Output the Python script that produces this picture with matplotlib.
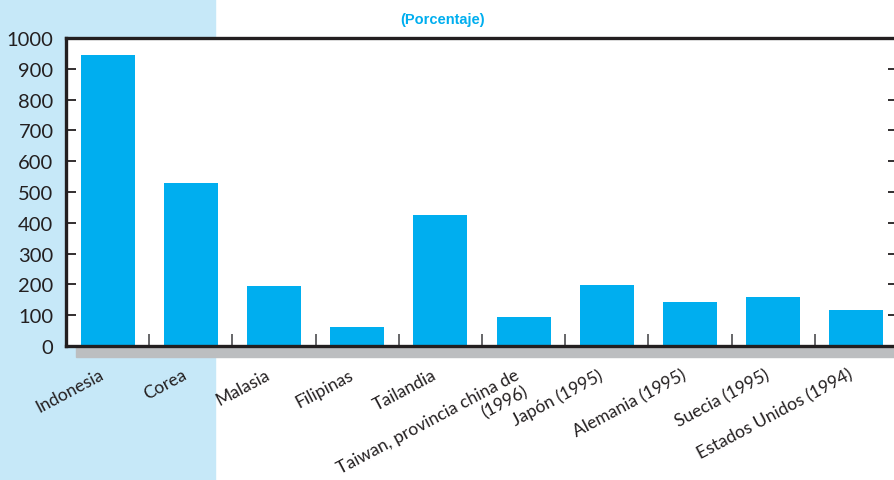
import matplotlib
matplotlib.use("Agg")
import matplotlib.pyplot as plt
from matplotlib.patches import Rectangle
from matplotlib.transforms import ScaledTranslation
import numpy as np

# data
categories = ["Indonesia", "Corea", "Malasia", "Filipinas", "Tailandia",
              "Taiwan, provincia china de\n(1996)", "Japón (1995)",
              "Alemania (1995)", "Suecia (1995)", "Estados Unidos (1994)"]
values = [945, 530, 195, 62, 425, 94, 198, 143, 159, 117]
yticks = [0, 100, 200, 300, 400, 500, 600, 700, 800, 900, 1000]

blue = "#00aeef"
ink = "#231f20"

plt.rcParams['font.family'] = ['Lato', 'DejaVu Sans']

fig = plt.figure(figsize=(8.95, 4.81), dpi=100)
W, H = 895, 481

# light blue panel on the left and grey shadow under the frame
fig.patches.append(Rectangle((0, 0), 215 / W, 1, transform=fig.transFigure,
                             color="#c6e8f8", zorder=-3))
fig.patches.append(Rectangle((76 / W, (H - 358) / H), 1, 10 / H,
                             transform=fig.transFigure,
                             color="#bcbec0", zorder=-2))

ax = fig.add_axes([66 / W, (H - 347) / H, 832 / W, 308 / H])
ax.set_facecolor("white")

x = np.arange(len(categories))
ax.bar(x, values, width=0.65, color=blue, zorder=2)

ax.set_xlim(-0.5, len(categories) - 0.5)
ax.set_ylim(0, 1000)
ax.set_yticks(yticks)
ax.set_yticklabels([str(v) for v in yticks], fontsize=14.5, color=ink)

# category labels, rotated, right end just left of the bar centre
ax.set_xticks(x)
ax.set_xticklabels([])
shift = ScaledTranslation(-9 / 100, -20 / 100, fig.dpi_scale_trans)
for xi, name in zip(x, categories):
    ax.text(xi, 0, name, transform=ax.get_xaxis_transform() + shift,
            rotation=28, ha="right", va="top", rotation_mode="anchor",
            multialignment="right", linespacing=1.2,
            fontsize=12.6, color=ink, clip_on=False)

ax.set_xticks(x[:-1] + 0.5, minor=True)
ax.tick_params(axis="x", which="major", length=0)
ax.tick_params(axis="x", which="minor", direction="in", length=9,
               width=1.2, color="#4d4d4f")
ax.tick_params(axis="y", direction="in", length=7, width=1.3, color=ink,
               pad=9, right=True)

for s in ["left", "bottom", "top"]:
    ax.spines[s].set_linewidth(2.4)
    ax.spines[s].set_color(ink)
ax.spines["right"].set_visible(False)

fig.text(443 / W, (H - 20) / H, "(Porcentaje)", color=blue, fontsize=10.5,
         fontweight="bold", ha="center", va="center",
         family=["Liberation Sans", "DejaVu Sans"])

fig.savefig("out.png", dpi=100)
